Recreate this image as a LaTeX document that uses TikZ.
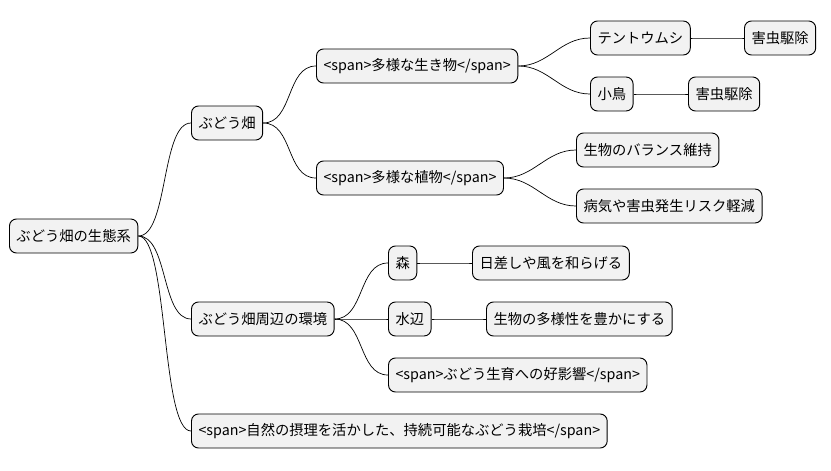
\documentclass[tikz,border=0pt]{standalone}
\usepackage{fontspec}
\setmainfont{Noto Sans CJK JP}
\usetikzlibrary{positioning,calc}

\tikzset{
    box/.style={draw=black, line width=0.8pt, fill=black!5, rounded corners=6pt,
        anchor=west, minimum height=34*0.03cm, inner xsep=6pt,
        font=\fontsize{12.2}{14}\selectfont},
    link/.style={draw=black, line width=0.6pt}
}
\newcommand{\branch}[2]{\draw[link] (#1.east) .. controls +(30,0) and +(-30,0) .. (#2.west);}

\begin{document}
\begin{tikzpicture}[x=0.03cm, y=-0.03cm]
    \useasboundingbox (0,0) rectangle (831,471);

    % Root
    \node[box] (root) at (9,236) {ぶどう畑の生態系};

    % Vineyard
    \node[box] (vine) at (191,123) {ぶどう畑};
    \node[box] (life) at (316,66) {<span>多様な生き物</span>};
    \node[box] (bug) at (590,38) {テントウムシ};
    \node[box] (bugpest) at (744,38) {害虫駆除};
    \node[box] (bird) at (590,94) {小鳥};
    \node[box] (birdpest) at (688,94) {害虫駆除};
    \node[box] (plant) at (316,178) {<span>多様な植物</span>};
    \node[box] (balance) at (576,150) {生物のバランス維持};
    \node[box] (risk) at (576,206) {病気や害虫発生リスク軽減};

    % Surroundings
    \node[box] (env) at (191,319) {ぶどう畑周辺の環境};
    \node[box] (forest) at (388,263) {森};
    \node[box] (shade) at (472,263) {日差しや風を和らげる};
    \node[box] (water) at (388,319) {水辺};
    \node[box] (rich) at (486,319) {生物の多様性を豊かにする};
    \node[box] (growth) at (388,375) {<span>ぶどう生育への好影響</span>};

    % Summary
    \node[box] (sust) at (191,431) {<span>自然の摂理を活かした、持続可能なぶどう栽培</span>};

    % Connections
    \branch{root}{vine}
    \branch{root}{env}
    \branch{root}{sust}
    \branch{vine}{life}
    \branch{vine}{plant}
    \branch{life}{bug}
    \branch{life}{bird}
    \branch{bug}{bugpest}
    \branch{bird}{birdpest}
    \branch{plant}{balance}
    \branch{plant}{risk}
    \branch{env}{forest}
    \branch{env}{water}
    \branch{env}{growth}
    \branch{forest}{shade}
    \branch{water}{rich}
\end{tikzpicture}
\end{document}
